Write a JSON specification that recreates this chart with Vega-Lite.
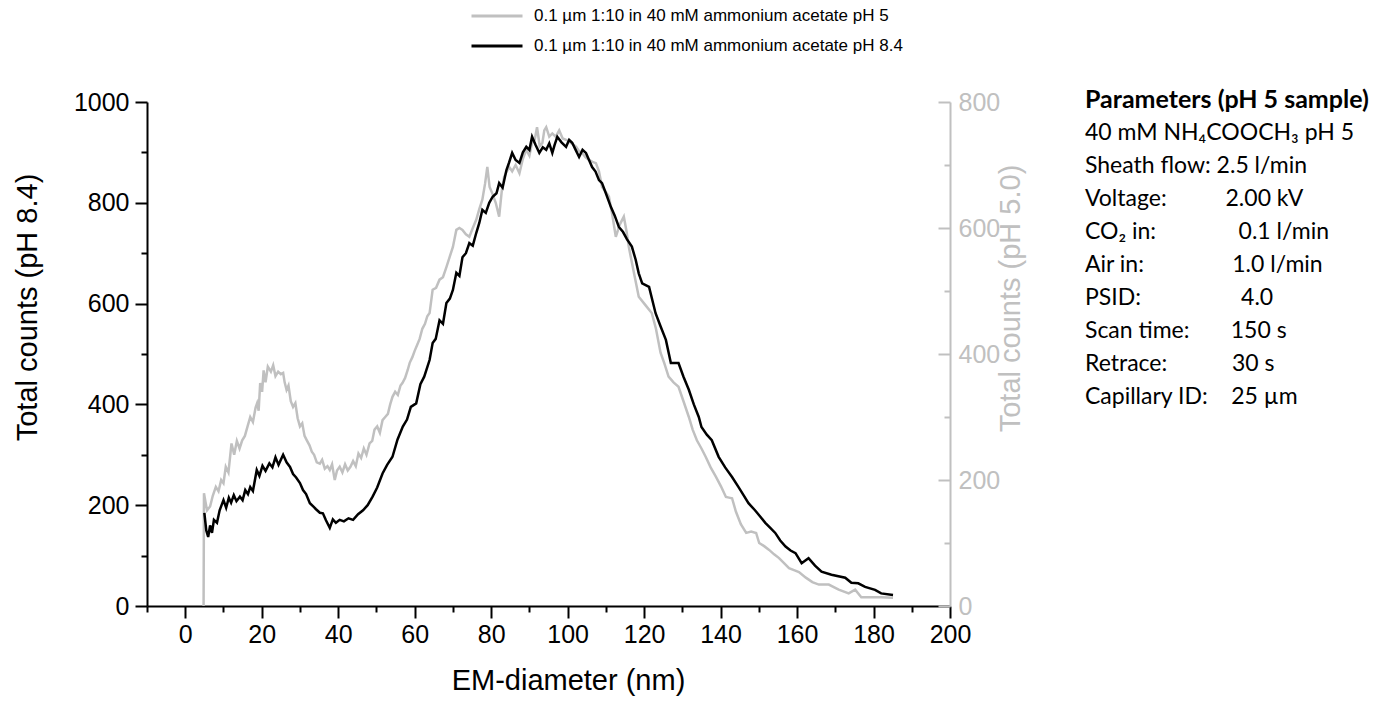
{
  "$schema": "https://vega.github.io/schema/vega-lite/v6.json",
  "autosize": {"type": "none"},
  "width": 803,
  "height": 504,
  "padding": {"left": 147, "top": 102, "right": 450, "bottom": 96},
  "background": "white",
  "config": {"view": {"stroke": null}, "font": "Liberation Sans"},
  "datasets": {
    "ph84": [
      {"d":5.0,"c":185},{"d":5.5,"c":150},{"d":6.0,"c":137},{"d":6.5,"c":160},{"d":7.0,"c":145},{"d":7.5,"c":171},{"d":8.3,"c":165},{"d":9.0,"c":190},{"d":10.0,"c":210},{"d":10.7,"c":195},{"d":11.4,"c":215},{"d":12.0,"c":205},{"d":12.7,"c":220},{"d":13.4,"c":208},{"d":14.3,"c":217},{"d":15.0,"c":210},{"d":15.7,"c":230},{"d":16.4,"c":222},{"d":17.0,"c":236},{"d":17.7,"c":228},{"d":18.7,"c":270},{"d":19.4,"c":258},{"d":20.2,"c":278},{"d":21.0,"c":268},{"d":22.0,"c":283},{"d":22.8,"c":275},{"d":23.6,"c":295},{"d":24.4,"c":280},{"d":25.6,"c":300},{"d":26.5,"c":285},{"d":27.4,"c":276},{"d":28.2,"c":262},{"d":29.0,"c":255},{"d":30.0,"c":244},{"d":30.8,"c":230},{"d":31.6,"c":222},{"d":32.6,"c":204},{"d":33.4,"c":198},{"d":34.2,"c":192},{"d":35.2,"c":185},{"d":36.0,"c":184},{"d":36.8,"c":170},{"d":37.8,"c":155},{"d":38.6,"c":172},{"d":39.4,"c":165},{"d":40.4,"c":171},{"d":41.5,"c":168},{"d":42.7,"c":174},{"d":43.9,"c":171},{"d":45.2,"c":182},{"d":46.5,"c":190},{"d":47.7,"c":200},{"d":49.0,"c":217},{"d":50.2,"c":235},{"d":51.6,"c":263},{"d":52.8,"c":280},{"d":54.2,"c":296},{"d":55.5,"c":330},{"d":56.9,"c":356},{"d":58.0,"c":370},{"d":59.0,"c":395},{"d":60.4,"c":402},{"d":61.5,"c":440},{"d":62.5,"c":455},{"d":63.9,"c":488},{"d":64.7,"c":522},{"d":65.5,"c":530},{"d":66.5,"c":567},{"d":67.4,"c":560},{"d":68.3,"c":601},{"d":69.2,"c":610},{"d":70.0,"c":627},{"d":70.9,"c":661},{"d":71.7,"c":655},{"d":72.5,"c":692},{"d":73.4,"c":700},{"d":74.3,"c":720},{"d":75.2,"c":715},{"d":76.1,"c":740},{"d":76.9,"c":760},{"d":77.7,"c":786},{"d":78.6,"c":780},{"d":79.5,"c":800},{"d":80.4,"c":812},{"d":81.4,"c":819},{"d":82.1,"c":839},{"d":83.0,"c":830},{"d":84.0,"c":865},{"d":84.7,"c":880},{"d":85.5,"c":899},{"d":86.4,"c":885},{"d":87.4,"c":879},{"d":88.3,"c":900},{"d":89.2,"c":911},{"d":90.0,"c":905},{"d":90.7,"c":931},{"d":91.6,"c":915},{"d":92.6,"c":899},{"d":93.5,"c":910},{"d":94.4,"c":905},{"d":95.2,"c":918},{"d":96.0,"c":899},{"d":96.6,"c":915},{"d":97.3,"c":931},{"d":98.4,"c":920},{"d":99.6,"c":911},{"d":100.4,"c":925},{"d":101.2,"c":919},{"d":102.1,"c":905},{"d":103.0,"c":891},{"d":103.9,"c":905},{"d":104.8,"c":899},{"d":105.6,"c":885},{"d":106.4,"c":871},{"d":107.3,"c":862},{"d":108.2,"c":845},{"d":109.0,"c":839},{"d":110.0,"c":819},{"d":111.3,"c":792},{"d":112.3,"c":775},{"d":113.4,"c":752},{"d":114.5,"c":742},{"d":115.5,"c":728},{"d":116.8,"c":713},{"d":117.8,"c":687},{"d":118.6,"c":660},{"d":119.5,"c":640},{"d":121.3,"c":633},{"d":123.0,"c":581},{"d":124.3,"c":555},{"d":125.7,"c":528},{"d":127.0,"c":482},{"d":129.0,"c":482},{"d":130.3,"c":455},{"d":131.7,"c":429},{"d":133.0,"c":400},{"d":134.3,"c":375},{"d":135.0,"c":355},{"d":136.4,"c":340},{"d":137.7,"c":329},{"d":139.5,"c":296},{"d":141.2,"c":275},{"d":143.0,"c":256},{"d":144.7,"c":236},{"d":146.0,"c":220},{"d":147.3,"c":204},{"d":149.0,"c":190},{"d":150.3,"c":178},{"d":151.7,"c":165},{"d":153.0,"c":155},{"d":154.3,"c":145},{"d":155.6,"c":130},{"d":157.0,"c":118},{"d":158.3,"c":110},{"d":159.6,"c":105},{"d":161.2,"c":85},{"d":163.0,"c":95},{"d":164.7,"c":80},{"d":166.4,"c":68},{"d":169.0,"c":62},{"d":172.6,"c":56},{"d":174.2,"c":46},{"d":176.0,"c":45},{"d":177.8,"c":38},{"d":180.4,"c":32},{"d":182.0,"c":25},{"d":185.1,"c":22}
    ],
    "ph5": [
      {"d":4.8,"c":0},{"d":4.9,"c":179},{"d":5.3,"c":165},{"d":5.7,"c":152},{"d":6.5,"c":158},{"d":7.2,"c":175},{"d":8.0,"c":189},{"d":8.7,"c":182},{"d":9.4,"c":200},{"d":10.0,"c":195},{"d":10.6,"c":221},{"d":11.3,"c":212},{"d":12.1,"c":258},{"d":12.8,"c":240},{"d":13.5,"c":262},{"d":14.2,"c":250},{"d":14.9,"c":263},{"d":15.6,"c":270},{"d":16.3,"c":285},{"d":17.0,"c":300},{"d":17.7,"c":292},{"d":18.4,"c":315},{"d":18.8,"c":322},{"d":19.2,"c":310},{"d":19.6,"c":354},{"d":20.1,"c":340},{"d":20.5,"c":374},{"d":21.0,"c":355},{"d":21.6,"c":380},{"d":22.4,"c":372},{"d":23.0,"c":382},{"d":23.6,"c":365},{"d":24.3,"c":372},{"d":25.0,"c":368},{"d":25.6,"c":370},{"d":26.0,"c":355},{"d":26.5,"c":343},{"d":27.0,"c":350},{"d":27.6,"c":325},{"d":28.2,"c":316},{"d":28.8,"c":322},{"d":29.4,"c":298},{"d":30.0,"c":285},{"d":30.6,"c":290},{"d":31.2,"c":270},{"d":31.8,"c":263},{"d":32.5,"c":255},{"d":33.1,"c":245},{"d":33.7,"c":240},{"d":34.4,"c":228},{"d":35.2,"c":226},{"d":35.8,"c":232},{"d":36.5,"c":218},{"d":37.2,"c":222},{"d":37.8,"c":216},{"d":38.4,"c":225},{"d":39.1,"c":200},{"d":39.7,"c":215},{"d":40.4,"c":221},{"d":41.1,"c":212},{"d":41.8,"c":225},{"d":42.5,"c":215},{"d":43.2,"c":221},{"d":43.9,"c":230},{"d":44.6,"c":222},{"d":45.3,"c":242},{"d":46.0,"c":235},{"d":46.7,"c":250},{"d":47.4,"c":240},{"d":48.2,"c":258},{"d":48.9,"c":262},{"d":49.5,"c":280},{"d":50.2,"c":285},{"d":50.9,"c":275},{"d":51.6,"c":295},{"d":52.3,"c":300},{"d":53.0,"c":305},{"d":53.6,"c":320},{"d":54.2,"c":332},{"d":54.9,"c":340},{"d":55.6,"c":335},{"d":56.3,"c":350},{"d":56.8,"c":354},{"d":57.5,"c":362},{"d":58.2,"c":375},{"d":58.7,"c":386},{"d":59.4,"c":395},{"d":60.0,"c":405},{"d":60.7,"c":415},{"d":61.3,"c":424},{"d":62.0,"c":440},{"d":62.7,"c":448},{"d":63.3,"c":460},{"d":63.9,"c":465},{"d":64.7,"c":502},{"d":65.6,"c":505},{"d":66.5,"c":518},{"d":67.4,"c":522},{"d":68.3,"c":538},{"d":69.2,"c":555},{"d":70.0,"c":570},{"d":70.9,"c":597},{"d":71.7,"c":600},{"d":72.5,"c":597},{"d":73.4,"c":590},{"d":74.3,"c":586},{"d":75.2,"c":600},{"d":76.1,"c":613},{"d":76.9,"c":630},{"d":77.7,"c":645},{"d":78.4,"c":670},{"d":79.0,"c":697},{"d":79.6,"c":665},{"d":80.3,"c":655},{"d":81.2,"c":640},{"d":82.1,"c":618},{"d":82.8,"c":660},{"d":83.4,"c":681},{"d":84.1,"c":690},{"d":84.7,"c":697},{"d":85.5,"c":690},{"d":86.4,"c":700},{"d":87.4,"c":687},{"d":88.3,"c":710},{"d":89.2,"c":724},{"d":90.0,"c":715},{"d":90.7,"c":735},{"d":91.4,"c":740},{"d":92.0,"c":760},{"d":92.7,"c":730},{"d":93.4,"c":735},{"d":93.9,"c":755},{"d":94.4,"c":760},{"d":95.2,"c":745},{"d":96.0,"c":750},{"d":96.9,"c":745},{"d":97.8,"c":755},{"d":98.7,"c":742},{"d":99.6,"c":740},{"d":100.9,"c":735},{"d":102.2,"c":729},{"d":103.0,"c":722},{"d":103.8,"c":719},{"d":104.7,"c":712},{"d":105.6,"c":708},{"d":106.5,"c":705},{"d":107.4,"c":703},{"d":108.2,"c":690},{"d":109.0,"c":665},{"d":109.9,"c":658},{"d":110.8,"c":650},{"d":111.7,"c":620},{"d":112.6,"c":586},{"d":113.6,"c":605},{"d":114.7,"c":618},{"d":115.4,"c":595},{"d":116.0,"c":570},{"d":117.3,"c":530},{"d":118.6,"c":491},{"d":120.3,"c":478},{"d":122.0,"c":465},{"d":123.1,"c":440},{"d":124.3,"c":402},{"d":125.3,"c":385},{"d":126.4,"c":364},{"d":127.7,"c":355},{"d":129.0,"c":348},{"d":130.3,"c":325},{"d":131.7,"c":300},{"d":132.7,"c":280},{"d":133.8,"c":263},{"d":135.0,"c":250},{"d":136.1,"c":237},{"d":137.4,"c":220},{"d":138.8,"c":205},{"d":140.1,"c":190},{"d":141.4,"c":173},{"d":142.2,"c":172},{"d":143.0,"c":171},{"d":144.0,"c":150},{"d":145.3,"c":130},{"d":146.7,"c":116},{"d":148.0,"c":118},{"d":149.3,"c":116},{"d":150.1,"c":100},{"d":151.4,"c":95},{"d":152.7,"c":89},{"d":154.0,"c":82},{"d":155.3,"c":76},{"d":156.6,"c":68},{"d":157.9,"c":60},{"d":159.2,"c":57},{"d":160.5,"c":54},{"d":162.3,"c":45},{"d":164.0,"c":38},{"d":165.7,"c":34},{"d":168.3,"c":34},{"d":170.9,"c":26},{"d":173.5,"c":20},{"d":175.2,"c":26},{"d":176.8,"c":14},{"d":179.4,"c":14},{"d":182.0,"c":14},{"d":185.1,"c":13}
    ],
    "info": [
      {"n": 1, "label": "Parameters (pH 5 sample)"},
      {"n": 2, "label": "40 mM NH\u2084COOCH\u2083 pH 5"},
      {"n": 3, "label": "Sheath flow:\u00a02.5 l/min"},
      {"n": 4, "label": "Voltage:\u00a0\u00a0\u00a0\u00a0\u00a0\u00a0\u00a0\u00a0\u00a0\u00a02.00 kV"},
      {"n": 5, "label": "CO\u2082 in:\u00a0\u00a0\u00a0\u00a0\u00a0\u00a0\u00a0\u00a0\u00a0\u00a0\u00a0\u00a0\u00a0\u00a00.1 l/min"},
      {"n": 6, "label": "Air in:\u00a0\u00a0\u00a0\u00a0\u00a0\u00a0\u00a0\u00a0\u00a0\u00a0\u00a0\u00a0\u00a0\u00a0\u00a01.0 l/min"},
      {"n": 7, "label": "PSID:\u00a0\u00a0\u00a0\u00a0\u00a0\u00a0\u00a0\u00a0\u00a0\u00a0\u00a0\u00a0\u00a0\u00a0\u00a0\u00a0\u00a04.0"},
      {"n": 8, "label": "Scan time:\u00a0\u00a0\u00a0\u00a0\u00a0\u00a0\u00a0150 s"},
      {"n": 9, "label": "Retrace:\u00a0\u00a0\u00a0\u00a0\u00a0\u00a0\u00a0\u00a0\u00a0\u00a0\u00a030 s"},
      {"n": 10, "label": "Capillary ID:\u00a0\u00a0\u00a0\u00a025 \u00b5m"}
    ]
  },
  "layer": [
    {
      "data": {"name": "ph5"},
      "mark": {"type": "line", "strokeWidth": 2.5, "interpolate": "linear"},
      "encoding": {
        "x": {
          "field": "d", "type": "quantitative",
          "scale": {"domain": [-10, 200], "nice": false, "zero": false},
          "axis": {
            "title": "EM-diameter (nm)",
            "values": [-10,0,10,20,30,40,50,60,70,80,90,100,110,120,130,140,150,160,170,180,190,200],
            "labelExpr": "datum.value % 20 === 0 ? datum.label : ''",
            "tickSize": {"condition": {"test": "datum.value % 20 === 0", "value": 12}, "value": 6},
            "tickWidth": 2, "tickColor": "#000000", "domainColor": "#000000", "domainWidth": 2,
            "labelFontSize": 25, "labelColor": "#000000", "labelPadding": 4, "labelFlush": false, "labelOverlap": false, "labelBound": false,
            "titleFontSize": 29, "titleFontWeight": "normal", "titleColor": "#000000",
            "titleX": 421, "titleY": 74, "titleBaseline": "middle", "titleAlign": "center",
            "grid": false
          }
        },
        "y": {
          "field": "c", "type": "quantitative",
          "scale": {"domain": [0, 800], "nice": false, "zero": false},
          "axis": {
            "orient": "right",
            "title": "Total counts (pH 5.0)",
            "values": [0,100,200,300,400,500,600,700,800],
            "format": "d",
            "labelExpr": "datum.value % 200 === 0 ? datum.label : ''",
            "tickSize": {"condition": {"test": "datum.value % 200 === 0", "value": -12}, "value": -6},
            "tickWidth": 2, "tickColor": "#c0c0c0", "domainColor": "#c0c0c0", "domainWidth": 2,
            "labelFontSize": 25, "labelColor": "#c0c0c0", "labelPadding": 20, "labelFlush": false, "labelOverlap": false, "labelBound": false,
            "titleFontSize": 29, "titleFontWeight": "normal", "titleColor": "#c0c0c0",
            "titleAngle": 270, "titleX": 60, "titleY": 196, "titleBaseline": "middle", "titleAlign": "center",
            "grid": false
          }
        },
        "color": {
          "datum": "0.1 µm 1:10 in 40 mM ammonium acetate pH 5",
          "type": "nominal",
          "scale": {"domain": ["0.1 µm 1:10 in 40 mM ammonium acetate pH 5", "0.1 µm 1:10 in 40 mM ammonium acetate pH 8.4"], "range": ["#c0c0c0", "#000000"]},
          "legend": {
            "orient": "none", "legendX": 323, "legendY": -95, "direction": "vertical",
            "title": null, "symbolType": "stroke", "symbolSize": 2601, "symbolStrokeWidth": 3, "clipHeight": 18,
            "labelFontSize": 17, "labelFont": "Liberation Sans", "labelColor": "#000000", "labelLimit": 0, "labelOffset": 10, "rowPadding": 12
          }
        }
      }
    },
    {
      "data": {"name": "ph84"},
      "mark": {"type": "line", "strokeWidth": 2.5, "interpolate": "linear"},
      "encoding": {
        "x": {
          "field": "d", "type": "quantitative",
          "scale": {"domain": [-10, 200], "nice": false, "zero": false},
          "axis": {
            "title": "EM-diameter (nm)",
            "values": [-10,0,10,20,30,40,50,60,70,80,90,100,110,120,130,140,150,160,170,180,190,200],
            "labelExpr": "datum.value % 20 === 0 ? datum.label : ''",
            "tickSize": {"condition": {"test": "datum.value % 20 === 0", "value": 12}, "value": 6},
            "tickWidth": 2, "tickColor": "#000000", "domainColor": "#000000", "domainWidth": 2,
            "labelFontSize": 25, "labelColor": "#000000", "labelPadding": 4, "labelFlush": false, "labelOverlap": false, "labelBound": false,
            "titleFontSize": 29, "titleFontWeight": "normal", "titleColor": "#000000",
            "titleX": 421, "titleY": 74, "titleBaseline": "middle", "titleAlign": "center",
            "grid": false
          }
        },
        "y": {
          "field": "c", "type": "quantitative",
          "scale": {"domain": [0, 1000], "nice": false, "zero": false},
          "axis": {
            "orient": "left",
            "title": "Total counts (pH 8.4)",
            "values": [0,100,200,300,400,500,600,700,800,900,1000],
            "format": "d",
            "labelExpr": "datum.value % 200 === 0 ? datum.label : ''",
            "tickSize": {"condition": {"test": "datum.value % 200 === 0", "value": 12}, "value": 6},
            "tickWidth": 2, "tickColor": "#000000", "domainColor": "#000000", "domainWidth": 2,
            "labelFontSize": 25, "labelColor": "#000000", "labelPadding": 6, "labelFlush": false, "labelOverlap": false, "labelBound": false,
            "titleFontSize": 29, "titleFontWeight": "normal", "titleColor": "#000000",
            "titleAngle": 270, "titleX": -120, "titleY": 205, "titleBaseline": "middle", "titleAlign": "center",
            "grid": false
          }
        },
        "color": {"datum": "0.1 µm 1:10 in 40 mM ammonium acetate pH 8.4", "type": "nominal"}
      }
    },
    {
      "data": {"name": "info"},
      "transform": [{"filter": "datum.n === 1"}],
      "mark": {"type": "text", "align": "left", "baseline": "middle", "font": "Lato", "fontSize": 25, "fontWeight": "bold", "fill": "#000000", "clip": false},
      "encoding": {
        "x": {
          "datum": 235.3, "type": "quantitative",
          "scale": {"domain": [-10, 200], "nice": false, "zero": false},
          "axis": {
            "title": "EM-diameter (nm)",
            "values": [-10,0,10,20,30,40,50,60,70,80,90,100,110,120,130,140,150,160,170,180,190,200],
            "labelExpr": "datum.value % 20 === 0 ? datum.label : ''",
            "tickSize": {"condition": {"test": "datum.value % 20 === 0", "value": 12}, "value": 6},
            "tickWidth": 2, "tickColor": "#000000", "domainColor": "#000000", "domainWidth": 2,
            "labelFontSize": 25, "labelColor": "#000000", "labelPadding": 4, "labelFlush": false, "labelOverlap": false, "labelBound": false,
            "titleFontSize": 29, "titleFontWeight": "normal", "titleColor": "#000000",
            "titleX": 421, "titleY": 74, "titleBaseline": "middle", "titleAlign": "center",
            "grid": false
          }
        },
        "y": {"field": "n", "type": "quantitative", "axis": null, "scale": {"domain": [1.0606, 16.333], "reverse": true, "nice": false, "zero": false}},
        "text": {"field": "label", "type": "nominal"}
      }
    },
    {
      "data": {"name": "info"},
      "transform": [{"filter": "datum.n > 1"}],
      "mark": {"type": "text", "align": "left", "baseline": "middle", "font": "Lato", "fontSize": 23, "fill": "#000000", "clip": false},
      "encoding": {
        "x": {
          "datum": 235.3, "type": "quantitative",
          "scale": {"domain": [-10, 200], "nice": false, "zero": false},
          "axis": {
            "title": "EM-diameter (nm)",
            "values": [-10,0,10,20,30,40,50,60,70,80,90,100,110,120,130,140,150,160,170,180,190,200],
            "labelExpr": "datum.value % 20 === 0 ? datum.label : ''",
            "tickSize": {"condition": {"test": "datum.value % 20 === 0", "value": 12}, "value": 6},
            "tickWidth": 2, "tickColor": "#000000", "domainColor": "#000000", "domainWidth": 2,
            "labelFontSize": 25, "labelColor": "#000000", "labelPadding": 4, "labelFlush": false, "labelOverlap": false, "labelBound": false,
            "titleFontSize": 29, "titleFontWeight": "normal", "titleColor": "#000000",
            "titleX": 421, "titleY": 74, "titleBaseline": "middle", "titleAlign": "center",
            "grid": false
          }
        },
        "y": {"field": "n", "type": "quantitative", "axis": null, "scale": {"domain": [1.0606, 16.333], "reverse": true, "nice": false, "zero": false}},
        "text": {"field": "label", "type": "nominal"}
      }
    }
  ],
  "resolve": {"scale": {"y": "independent"}}
}
